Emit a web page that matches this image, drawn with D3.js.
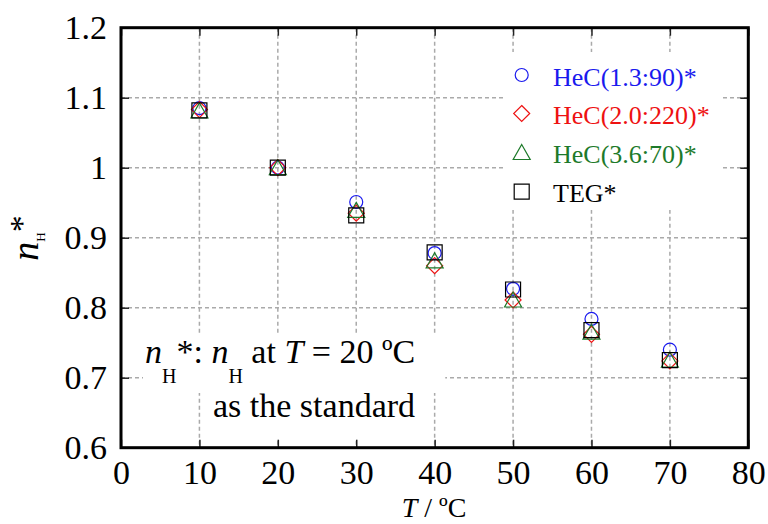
<!DOCTYPE html>
<html>
<head>
<meta charset="utf-8">
<script src="https://cdn.jsdelivr.net/npm/d3@7"></script>
<style>
  body { margin: 0; background: #fff; }
  svg text { font-family: "Liberation Serif", "Times New Roman", serif; }
</style>
</head>
<body>
<svg width="768" height="524"></svg>
<script>
// temperatures (x) and normalised values for each sample
const temps = [10, 20, 30, 40, 50, 60, 70];
const hec13 = [1.085, 1.0, 0.951, 0.878, 0.827, 0.784, 0.740];
const hec20 = [1.083, 1.0, 0.935, 0.860, 0.811, 0.762, 0.724];
const hec36 = [1.081, 1.0, 0.939, 0.867, 0.811, 0.765, 0.725];
const teg   = [1.082, 1.0, 0.932, 0.879, 0.826, 0.768, 0.725];

const xTicks = [0, 10, 20, 30, 40, 50, 60, 70, 80];
const yTicks = [0.6, 0.7, 0.8, 0.9, 1.0, 1.1, 1.2];
const yTickLabels = ['0.6', '0.7', '0.8', '0.9', '1', '1.1', '1.2'];

const seriesNames = ['HeC(1.3:90)*', 'HeC(2.0:220)*', 'HeC(3.6:70)*', 'TEG*'];

const colors = ['#1a1aee', '#ee1111', '#1d7a2a', '#000000'];
const shapes = ['circle', 'diamond', 'triangle', 'square'];
const seriesVals = [hec13, hec20, hec36, teg];

const svg = d3.select('svg');
const pLeft = 121, pRight = 748.3, pTop = 27.7, pBottom = 447.7;

const x = d3.scaleLinear().domain([0, 80]).range([pLeft, pRight]);
const y = d3.scaleLinear().domain([0.6, 1.2]).range([pBottom, pTop]);

// marker shapes, drawn around (0,0)
function markerPath(shape) {
  if (shape === 'circle') {
    const r = 6.5;
    return 'M' + r + ',0A' + r + ',' + r + ' 0 1,1 ' + (-r) + ',0A' + r + ',' + r + ' 0 1,1 ' + r + ',0Z';
  }
  if (shape === 'diamond') return 'M0,-8L8,0L0,8L-8,0Z';
  if (shape === 'triangle') return 'M0,-8L8.5,7L-8.5,7Z';
  return 'M-7.5,-7.5H7.5V7.5H-7.5Z';
}

// grid
const grid = svg.append('g')
    .attr('stroke', '#aaaaaa')
    .attr('stroke-width', 1.5)
    .attr('stroke-dasharray', '4,3');

grid.selectAll('line.gx')
  .data(xTicks.slice(1, -1))
  .enter().append('line')
    .attr('x1', (d) => x(d)).attr('x2', (d) => x(d))
    .attr('y1', pTop).attr('y2', pBottom);

grid.selectAll('line.gy')
  .data(yTicks.slice(1, -1))
  .enter().append('line')
    .attr('x1', pLeft).attr('x2', pRight)
    .attr('y1', (d) => y(d)).attr('y2', (d) => y(d));

// opaque key box
svg.append('rect')
    .attr('x', 503).attr('y', 52)
    .attr('width', 217).attr('height', 158)
    .attr('fill', '#fff');

// annotation, with opaque backgrounds
const noteG = svg.append('g');
const note1 = noteG.append('text')
    .attr('x', 145).attr('y', 363)
    .attr('font-size', 34);
note1.append('tspan').attr('font-style', 'italic').text('n');
note1.append('tspan').attr('font-size', 20).attr('dy', 20).text('H');
note1.append('tspan').attr('dy', -20).text('*: ');
note1.append('tspan').attr('font-style', 'italic').text('n');
note1.append('tspan').attr('font-size', 20).attr('dy', 20).text('H');
note1.append('tspan').attr('dy', -20).text(' at ');
note1.append('tspan').attr('font-style', 'italic').text('T');
note1.append('tspan').text(' = 20 ºC');

const note2 = noteG.append('text')
    .attr('x', 213).attr('y', 417)
    .attr('font-size', 34)
    .text('as the standard');

[[note1, 2, 30, 0, 6], [note2, 4, 6, 4, 14]].forEach(([t, pl, pr, pt, pb]) => {
  const b = t.node().getBBox();
  noteG.insert('rect', 'text')
      .attr('x', b.x - pl).attr('y', b.y - pt)
      .attr('width', b.width + pl + pr).attr('height', b.height + pt + pb)
      .attr('fill', '#fff');
});

// points
seriesVals.forEach((vals, i) => {
  svg.append('g')
    .selectAll('path')
    .data(temps.map((t, j) => ({ t: t, v: vals[j] })))
    .enter().append('path')
      .attr('transform', (d) => 'translate(' + x(d.t) + ',' + y(d.v) + ')')
      .attr('d', markerPath(shapes[i]))
      .attr('fill', 'none')
      .attr('stroke', colors[i])
      .attr('stroke-width', 1.2);
});

// legend
const legend = svg.append('g');
const legendY = [75, 113.5, 152.5, 191.7];
seriesNames.forEach((name, i) => {
  legend.append('path')
      .attr('transform', 'translate(521.7,' + legendY[i] + ')')
      .attr('d', markerPath(shapes[i]))
      .attr('fill', 'none')
      .attr('stroke', colors[i])
      .attr('stroke-width', 1.2);
  legend.append('text')
      .attr('x', 553).attr('y', legendY[i] + 10.5)
      .attr('font-size', 26)
      .attr('fill', colors[i])
      .text(name);
});

// axes, inward ticks on all four sides
const fmtY = (d) => yTickLabels[yTicks.indexOf(d)];

const xAxis = svg.append('g')
    .attr('transform', 'translate(0,' + pBottom + ')')
    .call(d3.axisBottom(x).tickValues(xTicks).tickSize(-8).tickPadding(12).tickFormat(d3.format('d')));
const xAxisTop = svg.append('g')
    .attr('transform', 'translate(0,' + pTop + ')')
    .call(d3.axisTop(x).tickValues(xTicks).tickSize(-8).tickFormat(''));
const yAxis = svg.append('g')
    .attr('transform', 'translate(' + pLeft + ',0)')
    .call(d3.axisLeft(y).tickValues(yTicks).tickSize(-8).tickPadding(14).tickFormat(fmtY));
const yAxisRight = svg.append('g')
    .attr('transform', 'translate(' + pRight + ',0)')
    .call(d3.axisRight(y).tickValues(yTicks).tickSize(-8).tickFormat(''));

[xAxis, xAxisTop, yAxis, yAxisRight].forEach((a) => {
  a.select('.domain').remove();
  a.selectAll('.tick line').attr('stroke', '#222').attr('stroke-width', 1.5);
  a.selectAll('.tick text')
      .attr('font-family', '"Liberation Serif", "Times New Roman", serif')
      .attr('font-size', 34)
      .attr('fill', '#000');
});

svg.append('rect')
    .attr('x', pLeft).attr('y', pTop)
    .attr('width', pRight - pLeft).attr('height', pBottom - pTop)
    .attr('fill', 'none')
    .attr('stroke', '#000')
    .attr('stroke-width', 3);

// axis titles
const xTitle = svg.append('text')
    .attr('x', 434).attr('y', 517)
    .attr('text-anchor', 'middle')
    .attr('font-size', 28);
xTitle.append('tspan').attr('font-style', 'italic').text('T');
xTitle.append('tspan').text(' / ºC');

const yTitle = svg.append('text')
    .attr('transform', 'translate(38,238) rotate(-90)')
    .attr('text-anchor', 'middle')
    .attr('font-size', 38);
yTitle.append('tspan').attr('font-style', 'italic').text('n');
yTitle.append('tspan').attr('font-size', 13).attr('dy', 7).text('H');
yTitle.append('tspan').attr('font-size', 34).attr('dy', -12).text('*');
</script>
</body>
</html>
